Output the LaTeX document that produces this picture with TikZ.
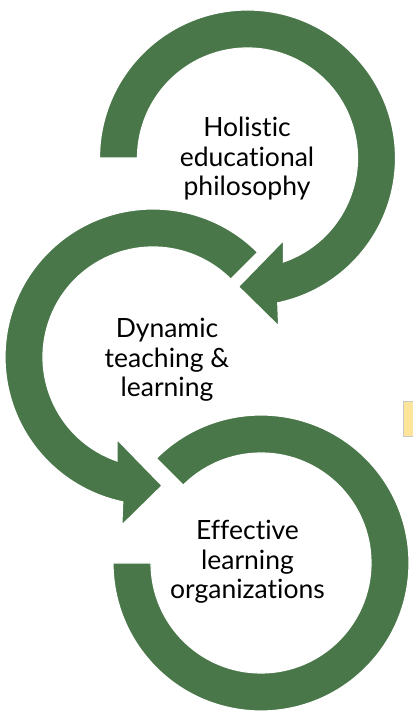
\documentclass[tikz,border=0pt]{standalone}
\usepackage{fontspec}
\setmainfont{Lato}[Ligatures={NoCommon}]
\definecolor{ringgreen}{RGB}{74,119,74}
\definecolor{notefill}{RGB}{252,229,154}
\definecolor{noteline}{RGB}{200,200,200}
\tikzset{
  ringarrow/.style={fill=ringgreen,draw=white,line width=1.2pt},
  ringtext/.style={align=center,text=black,font=\fontsize{26.5}{29.5}\selectfont}
}
% ring arrow with its head at the bottom, starting at angle #1
\newcommand\ringhead[1]{%
  \filldraw[ringarrow] (#1:148) arc[start angle=#1,end angle=-78.2,radius=148]
    -- (-79.5:171) -- (-94:129) -- (-66.5:90) -- (-70.9:110)
    arc[start angle=-70.9,end angle=#1,radius=110] -- cycle;}
\begin{document}
\begin{tikzpicture}[x=1pt,y=1pt]
\useasboundingbox (0,0) rectangle (412,711);
\coordinate (c1) at (247.5,553);
\coordinate (c2) at (153,354);
\coordinate (c3) at (261,148);
% last ring, no head
\begin{scope}[shift={(c3)}]
\filldraw[ringarrow] (135:148) arc[start angle=135,end angle=-180,radius=148]
  -- (180:110) arc[start angle=180,end angle=495,radius=110] -- cycle;
\end{scope}
\begin{scope}[shift={(c2)},xscale=-1]
\ringhead{135}
\end{scope}
\begin{scope}[shift={(c1)}]
\ringhead{180}
\end{scope}
\node[ringtext] (holistic) at (247,552) {Holistic\\educational\\philosophy};
\node[ringtext] (dynamic) at (167,351) {Dynamic\\teaching \&\\learning};
\node[ringtext] (effective) at (247.5,149) {Effective\\learning\\organizations};
% stray box at the right edge
\filldraw[fill=notefill,draw=noteline,line width=1pt] (403.5,309) rectangle (420,274);
\end{tikzpicture}
\end{document}
